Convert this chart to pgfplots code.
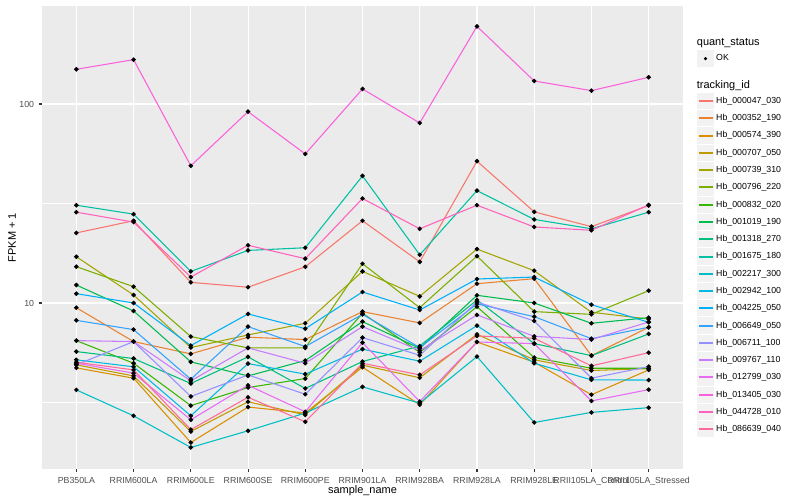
\documentclass[border=0pt]{standalone}
\usepackage{fontspec}
\setmainfont{Liberation Sans}
\usepackage{pgfplots}
\usepackage{pgfplotstable}
\pgfplotsset{compat=1.18}

\definecolor{panel}{HTML}{EBEBEB}
\definecolor{keybg}{HTML}{F2F2F2}
\definecolor{gray30}{HTML}{4D4D4D}
\definecolor{gray20}{HTML}{333333}
\definecolor{c01}{HTML}{F8766D}
\definecolor{c02}{HTML}{EA8331}
\definecolor{c03}{HTML}{D89000}
\definecolor{c04}{HTML}{C09B00}
\definecolor{c05}{HTML}{A3A500}
\definecolor{c06}{HTML}{7CAE00}
\definecolor{c07}{HTML}{39B600}
\definecolor{c08}{HTML}{00BB4E}
\definecolor{c09}{HTML}{00BF7D}
\definecolor{c10}{HTML}{00C1A3}
\definecolor{c11}{HTML}{00BFC4}
\definecolor{c12}{HTML}{00BAE0}
\definecolor{c13}{HTML}{00B0F6}
\definecolor{c14}{HTML}{35A2FF}
\definecolor{c15}{HTML}{9590FF}
\definecolor{c16}{HTML}{C77CFF}
\definecolor{c17}{HTML}{E76BF3}
\definecolor{c18}{HTML}{FA62DB}
\definecolor{c19}{HTML}{FF62BC}
\definecolor{c20}{HTML}{FF6A98}

% legend keys in the ggplot way: grey square, then the line or the point;
% the first key of each block gets some room above it
\pgfplotsset{
    keyline/.style={legend image code/.code={
        \fill[keybg, draw=none] (0bp,-8.14bp) rectangle (17.28bp,8.14bp);
        \draw[##1, line width=2bp] (1.7bp,0bp) -- (15.6bp,0bp);
        \path[draw=none, fill=none] (0bp,-8.64bp) rectangle (19.3bp,8.64bp);}},
    keylinefirst/.style={legend image code/.code={
        \fill[keybg, draw=none] (0bp,-8.14bp) rectangle (17.28bp,8.14bp);
        \draw[##1, line width=2bp] (1.7bp,0bp) -- (15.6bp,0bp);
        \path[draw=none, fill=none] (0bp,-8.64bp) rectangle (19.3bp,11.04bp);}},
    keydot/.style={legend image code/.code={
        \fill[keybg, draw=none] (0bp,-8.14bp) rectangle (17.28bp,8.14bp);
        \fill[black, draw=none] (8.64bp,0bp) circle (1.7bp);
        \path[draw=none, fill=none] (0bp,-8.64bp) rectangle (19.3bp,11.94bp);}},
}

% FPKM + 1 per sample (rows) and tracking id (columns)
\pgfplotstableread{
x s01 s02 s03 s04 s05 s06 s07 s08 s09 s10 s11 s12 s13 s14 s15 s16 s17 s18 s19 s20
0 22.5 9.47 4.72 4.89 17.08 15.22 6.47 12.31 5.70 31.0 3.66 5.18 11.14 8.18 4.89 6.47 4.98 149.4 28.6 5.04
1 25.9 6.40 4.19 4.30 10.97 12.08 4.98 9.12 5.26 27.96 2.71 4.78 10.0 7.35 6.40 6.40 4.44 167.0 25.5 4.61
2 12.7 5.55 1.99 2.26 5.97 6.78 3.05 5.06 3.94 14.41 1.88 2.71 6.11 4.14 3.39 4.06 2.59 48.9 13.5 2.31
3 12.0 6.73 3.00 3.19 6.91 5.95 3.76 4.30 5.36 18.38 2.28 4.96 8.81 7.61 4.35 5.95 3.86 91.5 19.5 3.36
4 15.2 6.55 2.80 2.74 7.91 5.95 4.17 5.14 3.72 18.95 2.80 4.39 7.43 6.04 3.48 4.98 2.84 56.1 16.7 2.53
5 25.9 9.05 4.76 4.87 14.41 15.75 8.88 8.06 5.08 43.5 3.79 5.86 11.36 8.77 6.70 7.61 6.32 119.0 33.5 4.98
6 16.1 7.94 3.08 4.21 10.80 9.47 5.65 5.92 6.08 17.47 3.14 5.10 9.22 5.97 5.46 5.77 3.20 80.3 23.6 4.35
7 51.6 12.50 6.37 6.96 18.66 17.21 9.58 10.93 10.35 36.7 5.38 7.70 13.20 9.89 10.12 8.71 6.37 245.5 31.0 6.83
8 28.7 13.25 5.04 5.18 14.53 9.05 5.32 10.0 6.25 26.3 2.51 4.98 13.50 8.54 8.12 6.80 6.25 130.5 24.1 6.65
9 24.2 5.44 3.46 4.58 8.98 8.77 4.70 7.91 5.44 23.6 2.82 4.11 9.81 6.62 4.19 6.55 3.22 116.7 23.2 4.83
10 30.9 7.55 4.61 4.68 8.31 11.53 4.70 8.44 6.99 28.6 2.98 4.10 8.00 7.55 4.79 8.03 3.67 136.2 31.1 5.63
}\fpkm

\begin{document}
\begin{tikzpicture}
\path[use as bounding box] (0bp,0bp) rectangle (800bp,500bp);
\begin{axis}[
    at={(42bp,31bp)}, anchor=south west,
    scale only axis, width=641bp, height=463bp,
    ymode=log, ymin=1.465, ymax=310.8,
    xmin=-0.6, xmax=10.6,
    axis background/.style={fill=panel},
    axis line style={draw=none},
    xtick={0,...,10},
    xticklabels={PB350LA,RRIM600LA,RRIM600LE,RRIM600SE,RRIM600PE,RRIM901LA,RRIM928BA,RRIM928LA,RRIM928LE,RRII105LA\_Control,RRII105LA\_Stressed},
    ytick={10,100}, yticklabels={10,100},
    minor ytick={3.1623,31.623},
    xtick pos=bottom, ytick pos=left,
    tick align=outside, major tick length=2.75bp, minor tick length=0pt,
    tick style={gray20, line width=1.07bp},
    grid=both,
    major grid style={white, line width=1.07bp},
    minor grid style={white, line width=0.53bp},
    tick label style={font=\fontsize{8.8}{10}\selectfont, text=gray30},
    xticklabel style={inner sep=0pt, anchor=north, yshift=-4.95bp},
    yticklabel style={inner sep=0pt, anchor=east, xshift=-4.95bp},
    xlabel={sample\_name}, ylabel={FPKM + 1},
    label style={font=\fontsize{11}{13}\selectfont},
    xlabel style={inner sep=0pt, anchor=center, at={(axis description cs:0.5,0)}, yshift=-22bp},
    ylabel style={inner sep=0pt, anchor=center, at={(axis description cs:0,0.5)}, yshift=30bp},
    every axis plot/.append style={line width=1.07bp},
    legend style={at={(1.0214,0.9417)}, anchor=north west, draw=none, fill=none,
        inner sep=0pt, row sep=0pt, font=\fontsize{8.8}{10}\selectfont,
        nodes={inner sep=0pt}},
    legend cell align=left,
]
\addlegendimage{empty legend}
\addlegendentry{\hspace*{-19.3bp}\fontsize{11}{13}\selectfont\rule[-2.7bp]{0pt}{14.7bp}quant\_status}
\addlegendimage{keydot}
\addlegendentry{OK}
\addlegendimage{empty legend}
\addlegendentry{\hspace*{-19.3bp}\fontsize{11}{13}\selectfont\rule[-4.2bp]{0pt}{25.4bp}tracking\_id}

\addplot[c01, keylinefirst] table[x=x, y=s01] {\fpkm}; \addlegendentry{Hb\_000047\_030}
\addplot[c02, keyline] table[x=x, y=s02] {\fpkm}; \addlegendentry{Hb\_000352\_190}
\addplot[c03, keyline] table[x=x, y=s03] {\fpkm}; \addlegendentry{Hb\_000574\_390}
\addplot[c04, keyline] table[x=x, y=s04] {\fpkm}; \addlegendentry{Hb\_000707\_050}
\addplot[c05, keyline] table[x=x, y=s05] {\fpkm}; \addlegendentry{Hb\_000739\_310}
\addplot[c06, keyline] table[x=x, y=s06] {\fpkm}; \addlegendentry{Hb\_000796\_220}
\addplot[c07, keyline] table[x=x, y=s07] {\fpkm}; \addlegendentry{Hb\_000832\_020}
\addplot[c08, keyline] table[x=x, y=s08] {\fpkm}; \addlegendentry{Hb\_001019\_190}
\addplot[c09, keyline] table[x=x, y=s09] {\fpkm}; \addlegendentry{Hb\_001318\_270}
\addplot[c10, keyline] table[x=x, y=s10] {\fpkm}; \addlegendentry{Hb\_001675\_180}
\addplot[c11, keyline] table[x=x, y=s11] {\fpkm}; \addlegendentry{Hb\_002217\_300}
\addplot[c12, keyline] table[x=x, y=s12] {\fpkm}; \addlegendentry{Hb\_002942\_100}
\addplot[c13, keyline] table[x=x, y=s13] {\fpkm}; \addlegendentry{Hb\_004225\_050}
\addplot[c14, keyline] table[x=x, y=s14] {\fpkm}; \addlegendentry{Hb\_006649\_050}
\addplot[c15, keyline] table[x=x, y=s15] {\fpkm}; \addlegendentry{Hb\_006711\_100}
\addplot[c16, keyline] table[x=x, y=s16] {\fpkm}; \addlegendentry{Hb\_009767\_110}
\addplot[c17, keyline] table[x=x, y=s17] {\fpkm}; \addlegendentry{Hb\_012799\_030}
\addplot[c18, keyline] table[x=x, y=s18] {\fpkm}; \addlegendentry{Hb\_013405\_030}
\addplot[c19, keyline] table[x=x, y=s19] {\fpkm}; \addlegendentry{Hb\_044728\_010}
\addplot[c20, keyline] table[x=x, y=s20] {\fpkm}; \addlegendentry{Hb\_086639\_040}

% points drawn over all lines
\pgfplotsinvokeforeach{01,02,03,04,05,06,07,08,09,10,11,12,13,14,15,16,17,18,19,20}{
    \addplot[forget plot, only marks, mark=*, mark size=1.7bp, black] table[x=x, y=s#1] {\fpkm};
}
\end{axis}
\end{tikzpicture}
\end{document}
